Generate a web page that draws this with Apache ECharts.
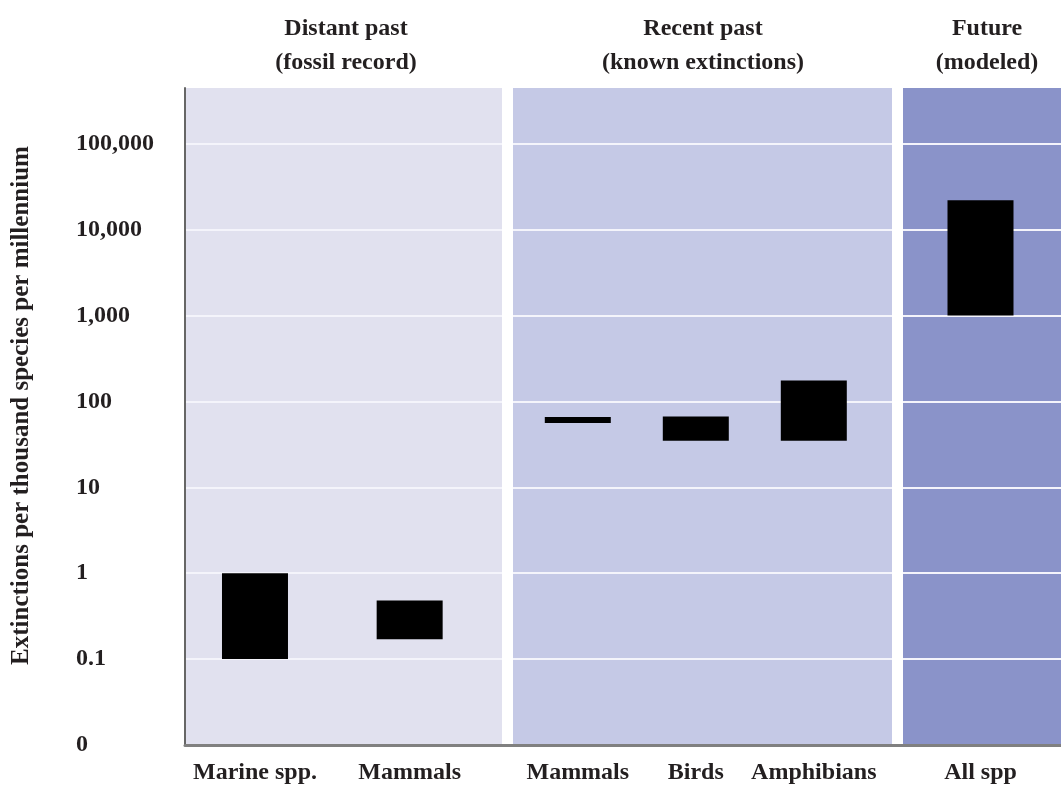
<!DOCTYPE html>
<html>
<head>
<meta charset="utf-8">
<script src="https://cdn.jsdelivr.net/npm/echarts@6/dist/echarts.min.js"></script>
<style>
html,body{margin:0;padding:0;background:#ffffff;}
#chart{width:1061px;height:787px;}
</style>
</head>
<body>
<div id="chart"></div>
<script>
// ---------- data ----------
const yTickLabels = ['0', '0.1', '1', '10', '100', '1,000', '10,000', '100,000'];
const panelTitles = ['Distant past\n(fossil record)', 'Recent past\n(known extinctions)', 'Future\n(modeled)'];
const yAxisTitle = 'Extinctions per thousand species per millennium';

const distantCats = ['Marine spp.', 'Mammals'];
const distantLow  = [0.1, 0.17];
const distantHigh = [1, 0.48];

const recentCats = ['Mammals', 'Birds', 'Amphibians'];
const recentLow  = [56, 35, 35];
const recentHigh = [66, 67, 175];

const futureCats = ['All spp'];
const futureLow  = [1000];
const futureHigh = [22000];

// ---------- scale: 0 -> 0, 0.1 -> 1, 1 -> 2, 10 -> 3 ... ----------
function pos(v) { return v <= 0 ? 0 : Math.log10(v) + 2; }

const FONT = 'Liberation Serif';
const TEXT = '#231f20';
const FS = 24;
const TOP = 88, BOTTOM = 42, Y_MAX = 7.65;

const panels = [
  { left: 185, right: 559, color: '#e1e1ef', title: panelTitles[0], cx: 346 },
  { left: 513, right: 169, color: '#c5c9e6', title: panelTitles[1], cx: 703 },
  { left: 903, right: 0,   color: '#8a93c9', title: panelTitles[2], cx: 987 }
];
const groups = [
  { cats: distantCats, low: distantLow, high: distantHigh, left: 177.65, right: 574 },
  { cats: recentCats,  low: recentLow,  high: recentHigh,  left: 518.8,  right: 188.2 },
  { cats: futureCats,  low: futureLow,  high: futureHigh,  left: 901.5,  right: 1.5 }
];

const grid = [], xAxis = [], yAxis = [], series = [], title = [];
const yBase = { type: 'value', min: 0, max: Y_MAX, interval: 1 };

// panel backgrounds with white grid lines
panels.forEach((p, i) => {
  grid.push({ left: p.left, right: p.right, top: TOP, bottom: BOTTOM, show: true,
              backgroundColor: p.color, borderWidth: 0 });
  xAxis.push({ gridIndex: i, type: 'value', show: false, min: 0, max: 1 });
  yAxis.push(Object.assign({}, yBase, {
    gridIndex: i,
    axisLine: { show: false }, axisTick: { show: false }, axisLabel: { show: false },
    splitLine: { show: true, showMinLine: false, showMaxLine: false,
                 lineStyle: { color: '#f4f4fb', width: 2 } }
  }));
  title.push({ text: p.title, left: p.cx, top: 12, padding: 0, textAlign: 'center',
               textStyle: { fontFamily: FONT, fontWeight: 'bold', fontSize: FS, color: TEXT, lineHeight: 34 } });
});

// frame: axis lines, y tick labels, y title
const frameIdx = grid.length;
grid.push({ left: 185, right: 0, top: TOP, bottom: BOTTOM });
xAxis.push({ gridIndex: frameIdx, type: 'value', min: 0, max: 1, z: 5,
             axisLine: { show: true, lineStyle: { color: '#808080', width: 3 } },
             axisTick: { show: false }, axisLabel: { show: false }, splitLine: { show: false } });
yAxis.push(Object.assign({}, yBase, {
  gridIndex: frameIdx, z: 5,
  axisLine: { show: true, lineStyle: { color: '#666666', width: 2 } },
  axisTick: { show: false },
  splitLine: { show: false },
  axisLabel: {
    showMaxLabel: false, align: 'left', margin: 109,
    fontFamily: FONT, fontWeight: 'bold', fontSize: FS, color: TEXT,
    formatter: v => (Number.isInteger(v) ? yTickLabels[v] : '')
  },
  name: yAxisTitle, nameLocation: 'middle', nameGap: 151, nameRotate: 90,
  nameTextStyle: { fontFamily: FONT, fontWeight: 'bold', fontSize: 25, color: TEXT,
                   padding: [0, 0, 0, 22] }
}));

// bar groups
groups.forEach((g, k) => {
  const gi = grid.length;
  grid.push({ left: g.left, right: g.right, top: TOP, bottom: BOTTOM });
  xAxis.push({ gridIndex: gi, type: 'category', data: g.cats,
               axisLine: { show: false }, axisTick: { show: false },
               axisLabel: { margin: 16, fontFamily: FONT, fontWeight: 'bold', fontSize: FS, color: TEXT, interval: 0 } });
  yAxis.push(Object.assign({}, yBase, { gridIndex: gi, show: false }));
  series.push({ type: 'bar', xAxisIndex: gi, yAxisIndex: gi, stack: 'r' + k, barWidth: 66, silent: true,
                itemStyle: { color: 'rgba(0,0,0,0)' }, data: g.low.map(pos) });
  series.push({ type: 'bar', xAxisIndex: gi, yAxisIndex: gi, stack: 'r' + k, barWidth: 66,
                itemStyle: { color: '#000000' },
                data: g.high.map((h, i) => pos(h) - pos(g.low[i])) });
});

const chart = echarts.init(document.getElementById('chart'), null, { renderer: 'canvas' });
chart.setOption({ animation: false, backgroundColor: '#ffffff', title, grid, xAxis, yAxis, series });
</script>
</body>
</html>
